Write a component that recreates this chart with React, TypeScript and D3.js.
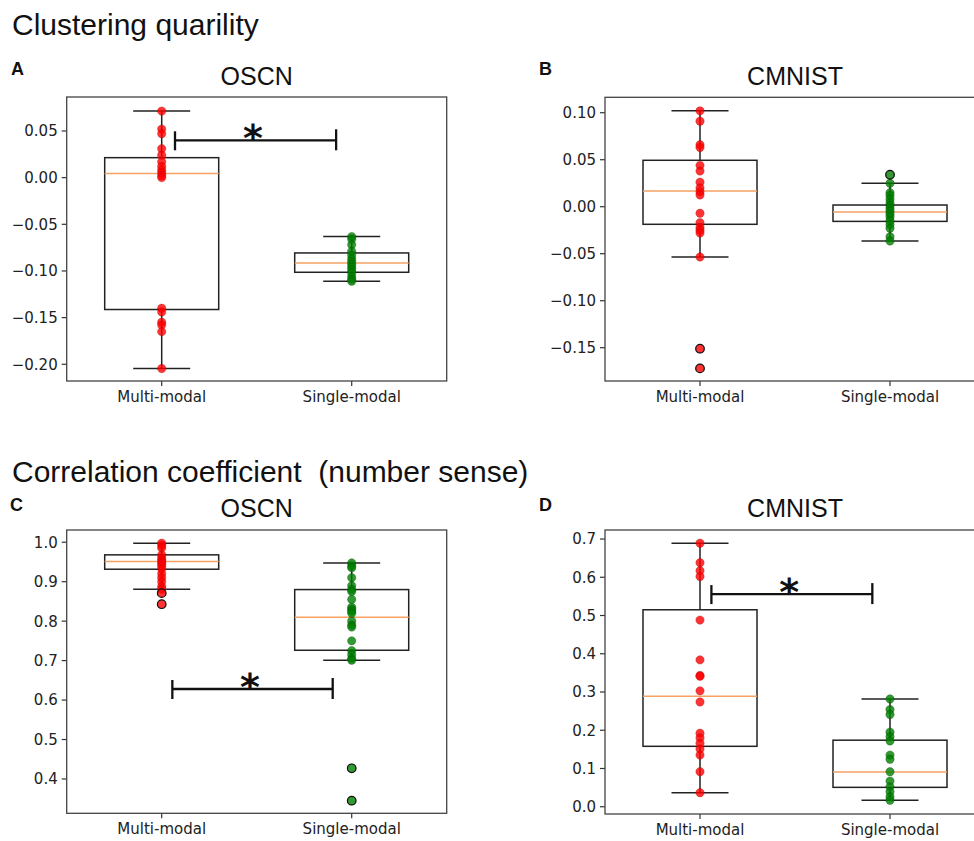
import React from 'react';
import * as d3 from 'd3';

const width = 974;
const height = 841;

const categories = ['Multi-modal', 'Single-modal'];

// panel A: clustering quality, OSCN
const aMultiPoints = [0.0713, 0.052, 0.047, 0.031, 0.024, 0.017, 0.012, 0.008, 0.005, 0.002, 0.0, -0.140, -0.144, -0.155, -0.158, -0.165, -0.2045];
const aSinglePoints = [-0.0632, -0.066, -0.072, -0.079, -0.083, -0.087, -0.090, -0.093, -0.096, -0.099, -0.102, -0.106, -0.109, -0.111];
// [whisker low, q1, median, q3, whisker high]
const aMultiBox = [-0.2045, -0.1413, 0.0043, 0.0214, 0.0713];
const aSingleBox = [-0.111, -0.1014, -0.0914, -0.0807, -0.0632];
const aTicks = [-0.2, -0.15, -0.1, -0.05, 0, 0.05];

// panel B: clustering quality, CMNIST
const bMultiPoints = [0.102, 0.091, 0.066, 0.063, 0.044, 0.038, 0.026, 0.020, 0.016, 0.0125, -0.007, -0.017, -0.022, -0.025, -0.028, -0.0535, -0.151, -0.172];
const bSinglePoints = [0.034, 0.0249, 0.015, 0.012, 0.008, 0.004, 0.001, -0.002, -0.005, -0.008, -0.011, -0.015, -0.019, -0.023, -0.032, -0.0365];
const bMultiBox = [-0.0535, -0.0187, 0.0167, 0.0494, 0.102];
const bSingleBox = [-0.0365, -0.0156, -0.0057, 0.0018, 0.0249];
const bTicks = [-0.15, -0.1, -0.05, 0, 0.05, 0.1];

// panel C: correlation coefficient, OSCN
const cMultiPoints = [0.9975, 0.992, 0.985, 0.968, 0.96, 0.955, 0.95, 0.945, 0.94, 0.932, 0.92, 0.91, 0.90, 0.888, 0.881, 0.871, 0.843];
const cSinglePoints = [0.9475, 0.94, 0.935, 0.91, 0.89, 0.88, 0.875, 0.855, 0.835, 0.83, 0.825, 0.82, 0.80, 0.79, 0.785, 0.75, 0.725, 0.715, 0.705, 0.701, 0.427, 0.345];
const cMultiBox = [0.881, 0.9316, 0.951, 0.968, 0.9975];
const cSingleBox = [0.701, 0.7262, 0.81, 0.88, 0.9475];
const cTicks = [0.4, 0.5, 0.6, 0.7, 0.8, 0.9, 1.0];

// panel D: correlation coefficient, CMNIST
const dMultiPoints = [0.689, 0.638, 0.617, 0.602, 0.488, 0.384, 0.343, 0.341, 0.303, 0.274, 0.192, 0.18, 0.166, 0.151, 0.135, 0.0916, 0.0366];
const dSinglePoints = [0.2817, 0.254, 0.241, 0.195, 0.183, 0.172, 0.135, 0.124, 0.0916, 0.067, 0.052, 0.039, 0.026, 0.0167];
const dMultiBox = [0.0366, 0.158, 0.289, 0.515, 0.689];
const dSingleBox = [0.0167, 0.0507, 0.0907, 0.174, 0.2817];
const dTicks = [0, 0.1, 0.2, 0.3, 0.4, 0.5, 0.6, 0.7];

// significance bars: [x from, x to, y, star x]
const aSig = [1.07, 1.918, 0.040, 1.48];
const cSig = [1.056, 1.9, 0.628, 1.465];
const dSig = [1.06, 1.907, 0.556, 1.47];

const colors = ['#ff0000', '#008000'];
const edges = ['#a00000', '#004000'];

const Panel = ({ left, top, h, domain, ticks, fmt, points, boxes, sig, title, letter, letterX, letterY, titleY }) => {
  const w = 380;
  const x = d3.scaleLinear().domain([0.5, 2.5]).range([0, w]);
  const y = d3.scaleLinear().domain(domain).range([h, 0]);
  const format = d3.format(fmt);
  const bw = x(1.3) - x(0.7);
  const cw = x(1.15) - x(0.85);

  return (
    <g>
      <text x={letterX} y={letterY} fontFamily="Liberation Sans, Arial, sans-serif" fontWeight="bold" fontSize={18} fill="#111">{letter}</text>
      <text x={left + w / 2} y={titleY} textAnchor="middle" fontFamily="Liberation Sans, Arial, sans-serif" fontSize={25} fill="#111">{title}</text>
      <g transform={`translate(${left},${top})`}>
        {ticks.map(t => (
          <g key={t} transform={`translate(0,${y(t)})`}>
            <line x1={-5} x2={0} stroke="#333" strokeWidth={1.2} />
            <text x={-9} dy="0.36em" textAnchor="end" fontFamily="DejaVu Sans, sans-serif" fontSize={15} fill="#222">{format(t)}</text>
          </g>
        ))}
        {categories.map((c, i) => (
          <g key={c} transform={`translate(${x(i + 1)},${h})`}>
            <line y1={0} y2={5} stroke="#333" strokeWidth={1.2} />
            <text y={21} textAnchor="middle" fontFamily="DejaVu Sans, sans-serif" fontSize={15} fill="#222">{c}</text>
          </g>
        ))}
        {boxes.map((b, i) => {
          const cx = x(i + 1);
          return (
            <g key={i}>
              <line x1={cx} x2={cx} y1={y(b[0])} y2={y(b[1])} stroke="#222" strokeWidth={1.5} />
              <line x1={cx} x2={cx} y1={y(b[3])} y2={y(b[4])} stroke="#222" strokeWidth={1.5} />
              <line x1={cx - cw / 2} x2={cx + cw / 2} y1={y(b[0])} y2={y(b[0])} stroke="#222" strokeWidth={1.5} />
              <line x1={cx - cw / 2} x2={cx + cw / 2} y1={y(b[4])} y2={y(b[4])} stroke="#222" strokeWidth={1.5} />
              <rect x={cx - bw / 2} y={y(b[3])} width={bw} height={y(b[1]) - y(b[3])} fill="none" stroke="#222" strokeWidth={1.5} />
              <line x1={cx - bw / 2} x2={cx + bw / 2} y1={y(b[2])} y2={y(b[2])} stroke="#f5a262" strokeWidth={1.5} />
            </g>
          );
        })}
        {points.map((pts, i) => pts.map((v, j) => (
          <circle key={`${i}-${j}`} cx={x(i + 1)} cy={y(v)} r={4.2} fill={colors[i]} fillOpacity={0.8} stroke={edges[i]} strokeOpacity={0.5} strokeWidth={0.6} />
        )))}
        {points.map((pts, i) => pts.filter(v => v < boxes[i][0] - 1e-9 || v > boxes[i][4] + 1e-9).map((v, j) => (
          <circle key={`f${i}-${j}`} cx={x(i + 1)} cy={y(v)} r={4.3} fill="none" stroke="#111" strokeWidth={1.2} />
        )))}
        {sig && (
          <g stroke="#111" strokeWidth={2.3}>
            <line x1={x(sig[0])} x2={x(sig[1])} y1={y(sig[2])} y2={y(sig[2])} />
            <line x1={x(sig[0])} x2={x(sig[0])} y1={y(sig[2]) - 9} y2={y(sig[2]) + 10} />
            <line x1={x(sig[1])} x2={x(sig[1])} y1={y(sig[2]) - 11} y2={y(sig[2]) + 10} />
            <text x={x(sig[3])} y={y(sig[2]) + 11} textAnchor="middle" stroke="none" fill="#111" fontFamily="DejaVu Sans, sans-serif" fontWeight="bold" fontSize={38}>*</text>
          </g>
        )}
        <rect x={0} y={0} width={w} height={h} fill="none" stroke="#444" strokeWidth={1.3} />
      </g>
    </g>
  );
};

const App = () => {
  return (
    <svg width={width} height={height} style={{ position: 'absolute', left: 0, top: 0, display: 'block', background: '#fff' }}>
      <rect width={width} height={height} fill="#fff" />
      <text x={12} y={35} fontFamily="Liberation Sans, Arial, sans-serif" fontSize={30} fill="#111">Clustering quarility</text>
      <text x={12} y={482} fontFamily="Liberation Sans, Arial, sans-serif" fontSize={30} fill="#111" style={{ whiteSpace: 'pre' }}>Correlation coefficient  (number sense)</text>
      <Panel left={66.7} top={97} h={284} domain={[-0.2179, 0.0864]} ticks={aTicks} fmt=".2f"
        points={[aMultiPoints, aSinglePoints]} boxes={[aMultiBox, aSingleBox]} sig={aSig}
        title="OSCN" letter="A" letterX={11} letterY={75} titleY={85} />
      <Panel left={605} top={97.3} h={283.7} domain={[-0.1854, 0.1164]} ticks={bTicks} fmt=".2f"
        points={[bMultiPoints, bSinglePoints]} boxes={[bMultiBox, bSingleBox]} sig={null}
        title="CMNIST" letter="B" letterX={539} letterY={75} titleY={85} />
      <Panel left={66.7} top={530} h={283.3} domain={[0.313, 1.031]} ticks={cTicks} fmt=".1f"
        points={[cMultiPoints, cSinglePoints]} boxes={[cMultiBox, cSingleBox]} sig={cSig}
        title="OSCN" letter="C" letterX={10} letterY={511} titleY={517} />
      <Panel left={605} top={530} h={284} domain={[-0.019, 0.7236]} ticks={dTicks} fmt=".1f"
        points={[dMultiPoints, dSinglePoints]} boxes={[dMultiBox, dSingleBox]} sig={dSig}
        title="CMNIST" letter="D" letterX={539} letterY={511} titleY={517} />
    </svg>
  );
};

export default App;
